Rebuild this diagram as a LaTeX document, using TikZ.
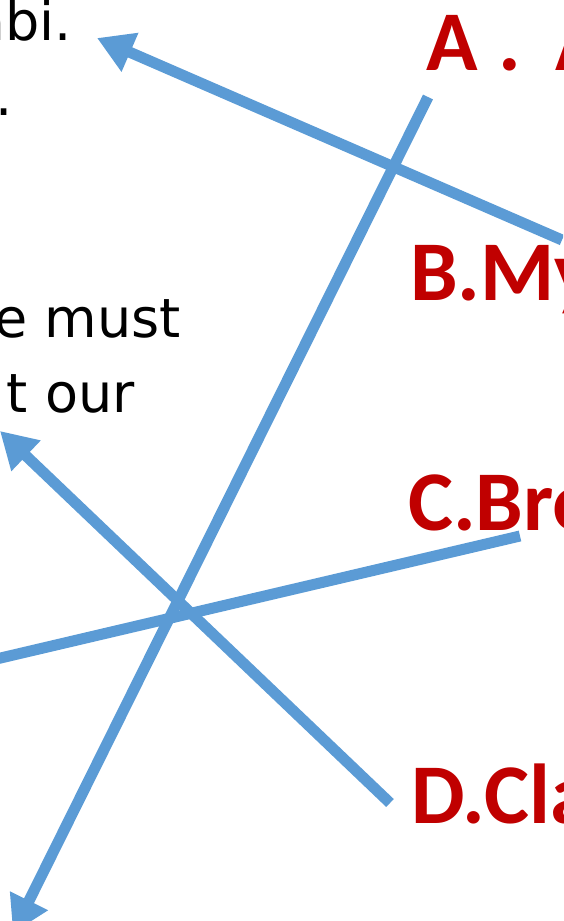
\documentclass[tikz,border=0pt]{standalone}
\usepackage{fontspec}
\setmainfont{DejaVu Sans}
\newfontfamily\choicefont{Carlito}
\usetikzlibrary{arrows.meta}
\definecolor{lineblue}{HTML}{5B9BD5}
\definecolor{choicered}{HTML}{C00000}

\begin{document}
\begin{tikzpicture}[x=1pt, y=-1pt,
    blueline/.style={draw=lineblue, line width=11pt, -{Triangle[length=36pt, width=40pt]}},
    note/.style={anchor=base east, inner sep=0pt, font=\fontsize{54}{64}\selectfont},
    choice/.style={anchor=base west, inner sep=0pt, text=choicered,
        font=\choicefont\bfseries\fontsize{85}{100}\selectfont}]
    % Khung hình
    \useasboundingbox (0,0) rectangle (563,921);
    \clip (0,0) rectangle (563,921);

    % Chữ bên trái
    \node[note] (n1) at (72,40) {abi.};
    \node[note] (n2) at (13,115) {.};
    \node[note] (n3) at (181,337) {e must};
    \node[note] (n4) at (135,412) {t our};

    % Các đáp án
    \node[choice] (a) at (426,70) {A\hspace{0.25em}.\hspace{0.4em}A};
    \node[choice] (b) at (410,300) {B.My};
    \node[choice] (c) at (408,530) {C.Bro};
    \node[choice] (d) at (411,823) {D.Cla};

    % Đầu mút các đường
    \coordinate (p1) at (428,97);   \coordinate (q1) at (13,933);
    \coordinate (p2) at (562,240);  \coordinate (q2) at (97,38);
    \coordinate (p3) at (520,536);  \coordinate (q3) at (-42,668);
    \coordinate (p4) at (390,803);  \coordinate (q4) at (0,431);

    % Các mũi tên
    \draw[blueline] (p1) -- (q1);
    \draw[blueline] (p2) -- (q2);
    \draw[blueline] (p3) -- (q3);
    \draw[blueline] (p4) -- (q4);
\end{tikzpicture}
\end{document}
